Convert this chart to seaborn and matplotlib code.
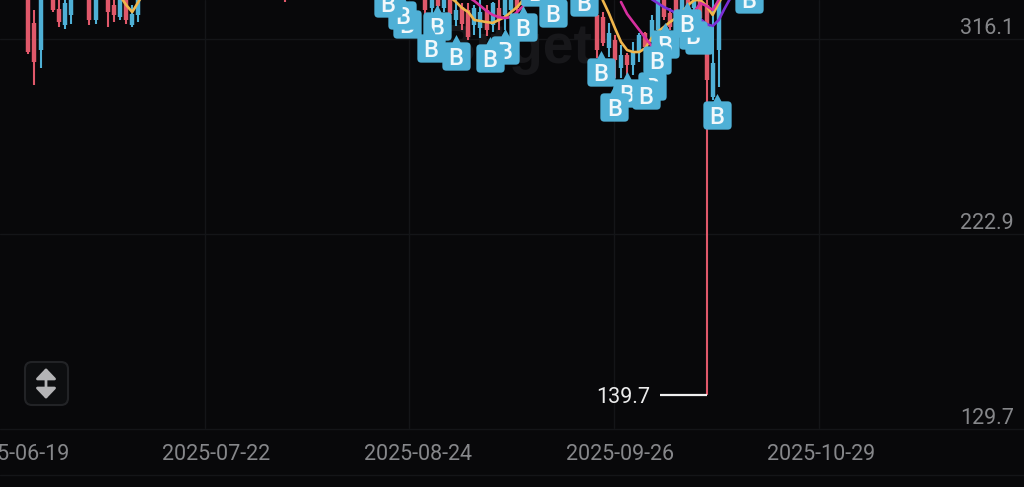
import matplotlib
matplotlib.use("Agg")
import matplotlib.pyplot as plt
import matplotlib.patches as patches
from matplotlib.path import Path
from matplotlib.transforms import IdentityTransform, blended_transform_factory
import pandas as pd
import seaborn as sns

# days are counted from 2025-09-26
base_date = pd.Timestamp("2025-09-26")

date_labels = ["2025-06-19", "2025-07-22", "2025-08-24", "2025-09-26", "2025-10-29"]
price_labels = [316.1, 222.9, 129.7]
grid_days = [-68.1, -34.7, -1.1, 32.4]

# candles
days = [-97, -96, -95, -93, -92, -91, -90, -87, -86, -84, -83, -82, -81, -80, -79, -55,
        -32, -31, -30, -29, -28, -27, -26, -25, -24, -23, -22, -21, -20, -19, -18, -17, -16,
        -4, -3, -2, -1, 0, 1, 2, 3, 4, 5, 6, 7, 8, 9, 10, 11, 12, 13, 14, 15, 16]
highs = [331, 323.8, 331, 331, 330, 328.5, 330, 330, 330, 330, 328.5, 330, 330, 326.2, 330, 331,
         330, 330, 330, 330, 330, 328.5, 327.1, 327.1, 326.2, 328.5, 326.2, 327.6, 330, 330, 330, 330, 330,
         323.8, 322.8, 317.6, 311.8, 307, 303.2, 308.5, 312.8, 313.3, 321.4, 329.5, 330, 324.7, 330, 330, 330, 330, 330, 330, 328.5, 330]
lows = [302.7, 287.9, 296, 322.8, 315.6, 314.7, 317, 316.6, 317, 315.6, 318, 319, 317, 315.6, 318, 327.8,
        314.2, 321.9, 323.8, 322.8, 313.3, 316.1, 314.2, 309.4, 311.8, 310.4, 311.3, 313.3, 314.2, 314.2, 316.6, 321.4, 321.4,
        300.8, 306.6, 301.3, 291.3, 291.3, 291.7, 292.7, 298.9, 304.6, 308.5, 312.8, 319, 314.2, 319, 321.4, 321.4, 321.9, 317, 139.7, 280.7, 287]
body_tops = [330, 317.6, 330, 330, 324.2, 327.1, 328.5, 329, 329, 329, 326.2, 328.5, 328.5, 321.9, 328.5, 330,
             329, 329, 329, 329, 329, 323.8, 325.2, 323.8, 324.7, 322.8, 323.8, 327.1, 324.7, 329, 329, 329, 329,
             321.4, 320.4, 312.8, 309.4, 302.3, 302.3, 303.7, 311.8, 312.8, 319, 328.5, 329, 322.3, 329, 329, 328.5, 328.5, 329, 326.2, 298.4, 329]
body_bottoms = [303.7, 298.9, 304.6, 323.8, 318, 316.6, 321.4, 319, 319, 322.8, 321.4, 320.4, 319, 316.6, 321.4, 329,
                323.8, 324.7, 325.7, 324.7, 321.9, 319, 317, 310.9, 316.6, 315.2, 314.2, 316.6, 319, 321.4, 323.8, 324.7, 326.2,
                304.6, 308, 305.6, 299.9, 296, 297.5, 297.5, 303.7, 306.1, 310.4, 314.2, 320.4, 315.6, 321.9, 323.8, 323.8, 324.7, 320, 290.3, 282.2, 304.6]
directions = ["d", "d", "u", "d", "d", "u", "u", "d", "u", "d", "d", "u", "d", "u", "u", "d",
              "d", "u", "d", "u", "d", "u", "d", "d", "u", "u", "d", "u", "d", "u", "u", "d", "u",
              "d", "d", "u", "d", "u", "d", "u", "u", "d", "u", "u", "d", "d", "d", "u", "d", "u", "d", "d", "u", "u"]

# moving averages, cut into the pieces that can be seen
orange_a_days = [-82, -81, -80, -79, -78]
orange_a = [330.5, 326.2, 322.8, 327.6, 332.4]
orange_b_days = [-28, -27, -26, -25, -24, -23, -22, -21, -20, -19, -18, -17, -16]
orange_b = [330, 327.6, 324.7, 322.8, 319, 318.5, 318, 317.6, 319, 320.4, 322.8, 325.2, 328.5]
orange_c_days = [-3, -2, -1, 0, 1, 2, 3, 4, 5, 6, 7, 8, 9, 10, 11, 12, 13, 14, 15, 16, 17]
orange_c = [328.5, 322.3, 315.2, 308.5, 304.6, 303.7, 303.7, 305.6, 310.4, 313.3, 315.6, 318, 319.9, 322.8, 326.2, 328.5, 328.5, 325.7, 321.4, 327.1, 332.4]
magenta_a_days = [-25, -24, -23, -22, -21, -20, -19, -18, -17, -16, -15]
magenta_a = [330, 328.1, 325.7, 323.3, 321.4, 320.4, 319.9, 320.4, 322.8, 325.7, 329.5]
magenta_b_days = [0, 1, 2, 3, 4, 5]
magenta_b = [327.6, 321.9, 318, 314.2, 310.4, 306.6]
magenta_c_days = [11, 12, 13, 14, 15, 16]
magenta_c = [322.3, 322.8, 327.1, 325.7, 323.8, 328.5]
purple_days = [5, 6, 7, 8, 9, 10, 11, 12, 13, 14, 15, 16, 17, 18]
purple = [329, 327.1, 325.2, 323.8, 322.3, 321.4, 320.9, 319.9, 319.5, 317, 316.1, 319, 324.7, 330]

# buy markers, listed back to front
buy_days = [-35, -35.8, -38.1, -30.1, -31.1, -27, -19, -21.4, -16, -14, -11.1, -6.1,
            -3.3, 1, -1.1, 5, 4.1, 7.2, 5.9, 12.7, 11.8, 10.8, 15.7, 20.9]
buy_prices = [317, 321.4, 327.1, 316.1, 305.6, 301.8, 304.6, 300.8, 315.6, 332.4, 322.3, 327.6,
              294.1, 284.1, 277.4, 287.4, 283.1, 307.5, 299.9, 309.4, 311.8, 317.6, 273.6, 329]

low_label = 139.7

bg = "#08080a"
grid_color = "#141518"
red = "#e0586a"
blue = "#4fb0d6"

sns.set_theme(style="dark")
plt.rcParams["font.family"] = ["Roboto", "DejaVu Sans"]

fig = plt.figure(figsize=(10.24, 4.87), dpi=100, facecolor=bg)
ax = fig.add_axes([0, 0, 1, 1], facecolor=bg)
ax.set_xlim(-101.64, 65.96)
ax.set_ylim(95.8, 328.55)
ax.set_axis_off()

# grid sits a little off from the labels
for d in grid_days:
    ax.plot([d, d], [124, 328.55], color=grid_color, lw=1, zorder=1)
for p in price_labels:
    ax.axhline(p - 6.3, color=grid_color, lw=1, zorder=1)
ax.axhline(101.5, color=grid_color, lw=1, zorder=1)

ax.text(0.578, 0.9, "Bitget", transform=ax.transAxes, color="#17171a", fontsize=40,
        fontweight="bold", family="Liberation Sans", ha="right", va="center", zorder=1.5)

# candles
colors = [red if c == "d" else blue for c in directions]
ax.vlines(days, lows, highs, colors=colors, lw=1.5, zorder=2)
ax.vlines(days, body_bottoms, body_tops, colors=colors, lw=3.2, zorder=2)

for xs, ys, col in [(orange_a_days, orange_a, "#f0b64c"), (orange_b_days, orange_b, "#f0b64c"),
                    (orange_c_days, orange_c, "#f0b64c"), (magenta_a_days, magenta_a, "#d62f9f"),
                    (magenta_b_days, magenta_b, "#d62f9f"), (magenta_c_days, magenta_c, "#d62f9f"),
                    (purple_days, purple, "#7b2fd6")]:
    sns.lineplot(x=xs, y=ys, color=col, lw=1.9, sort=False, errorbar=None, ax=ax, zorder=3, legend=False)

# rounded box with a small point on top
r = 0.28
box = Path([(-1 + r, -1), (1 - r, -1), (1, -1), (1, -1 + r), (1, 1 - r), (1, 1), (1 - r, 1),
            (0.28, 1), (0, 1.52), (-0.28, 1), (-1 + r, 1), (-1, 1), (-1, 1 - r), (-1, -1 + r),
            (-1, -1), (-1 + r, -1), (-1 + r, -1)],
           [Path.MOVETO, Path.LINETO, Path.CURVE3, Path.CURVE3, Path.LINETO, Path.CURVE3, Path.CURVE3,
            Path.LINETO, Path.LINETO, Path.LINETO, Path.LINETO, Path.CURVE3, Path.CURVE3, Path.LINETO,
            Path.CURVE3, Path.CURVE3, Path.CLOSEPOLY])

for i, (d, p) in enumerate(zip(buy_days, buy_prices)):
    z = 4 + i * 0.01
    sns.scatterplot(x=[d], y=[p], marker=box, s=960, color=blue, linewidth=0, ax=ax, zorder=z, legend=False)
    ax.text(d, p, "B", color="#f2f8fb", fontsize=17, fontweight="medium", ha="center", va="center_baseline",
            zorder=z + 0.005)

# lowest price label with its white leader
ax.plot([6.4, 14], [low_label, low_label], color="#f0f0f0", lw=1.6, zorder=3, solid_capstyle="butt")
ax.text(4.7, low_label - 1, str(low_label), color="#ececec", fontsize=15.5, ha="right", va="center", zorder=5)

# axis labels
trans = blended_transform_factory(ax.transData, ax.transAxes)
for label in date_labels:
    d = (pd.Timestamp(label) - base_date).days
    ax.text(d - 0.2, 1 - 455 / 487, label, transform=trans, color="#86878a", fontsize=15.5,
            ha="center", va="center", zorder=5)
trans = blended_transform_factory(ax.transAxes, ax.transData)
for p in price_labels:
    ax.text(1014 / 1024, p - 1, f"{p:.1f}", transform=trans, color="#86878a", fontsize=15.5,
            ha="right", va="center", zorder=5)

# resize button at the lower left
H = 487
ax.add_patch(patches.FancyBboxPatch((25, H - 405), 43, 43, boxstyle="round,pad=0,rounding_size=7",
                                    fc="#0d0e10", ec="#222326", lw=1.5, transform=IdentityTransform(), zorder=6))
ax.annotate("", xy=(46, H - 368), xytext=(46, H - 399), xycoords="figure pixels", textcoords="figure pixels",
            arrowprops=dict(arrowstyle="<|-|>,head_length=0.46,head_width=0.44", color="#b4b4b6", lw=2,
                            mutation_scale=14, shrinkA=0, shrinkB=0), zorder=7)

fig.savefig("out.png", dpi=100, facecolor=bg)
